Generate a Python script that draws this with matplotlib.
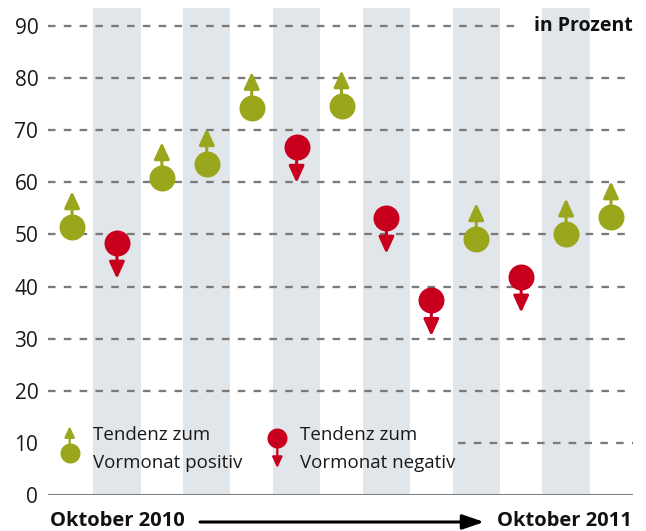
import matplotlib
matplotlib.use("Agg")
import matplotlib.pyplot as plt
import matplotlib.transforms as mtransforms

plt.rcParams['font.family'] = ['Open Sans', 'DejaVu Sans']

# Oktober 2010 .. Oktober 2011, Werte in Prozent
monate = ["Okt 10", "Nov 10", "Dez 10", "Jan 11", "Feb 11", "Mär 11", "Apr 11",
          "Mai 11", "Jun 11", "Jul 11", "Aug 11", "Sep 11", "Okt 11"]
werte = [51.4, 48.4, 60.8, 63.5, 74.3, 66.8, 74.6, 53.2, 37.4, 49.1, 41.9, 50.0, 53.3]
tendenz = [1, -1, 1, 1, 1, -1, 1, -1, -1, 1, -1, 1, 1]  # +1 positiv, -1 negativ
y_ticks = [0, 10, 20, 30, 40, 50, 60, 70, 80, 90]

gruen = "#9aa61c"
rot = "#c8001e"
band = "#e1e6ea"
grid_col = "#7a7a7a"

fig = plt.figure(figsize=(6.46, 5.31), dpi=100)
ax = fig.add_axes([48 / 646, 36 / 531, 585 / 646, 487 / 531])
ax.set_xlim(-0.535, 12.49)
ax.set_ylim(0, 93.45)

x = list(range(len(monate)))

# graue Streifen für jeden zweiten Monat
for i in x:
    if i % 2 == 1:
        ax.axvspan(i - 0.525, i + 0.525, color=band, lw=0, zorder=0)

# gestrichelte Hilfslinien
for t in y_ticks[1:]:
    x0, x1 = -0.535, 12.49
    if t == 10:
        x0 = 8.6
    if t == 90:
        x1 = 9.95
    ax.plot([x0, x1], [t, t], color=grid_col, lw=1.65,
            linestyle=(0, (3.3, 3.6)), zorder=1, solid_capstyle='butt')
ax.plot([-0.535, 12.49], [0, 0], color="#808080", lw=2.2, zorder=1)

# Pfeile + Punkte
pfeil_len = 6.9
for xi, v, t in zip(x, werte, tendenz):
    c = gruen if t > 0 else rot
    ax.annotate("", xy=(xi, v + t * pfeil_len), xytext=(xi, v),
                arrowprops=dict(arrowstyle="-|>,head_length=1.0,head_width=0.46",
                                mutation_scale=10, lw=2.2, color=c,
                                shrinkA=0, shrinkB=0), zorder=2)
    ax.scatter([xi], [v], s=350, color=c, lw=0, zorder=3)

# Achsen
for s in ax.spines.values():
    s.set_visible(False)
ax.set_xticks([])
ax.set_yticks(y_ticks)
ax.tick_params(axis='y', length=0, pad=7, labelsize=15, labelcolor="#1a1a1a")

ax.text(1.0, 90, "in Prozent", transform=mtransforms.blended_transform_factory(ax.transAxes, ax.transData),
        ha='right', va='center', fontsize=14, fontweight='bold', color="#111111")

# Legende
leg_fs = 13.5
ax.scatter([0.037], [0.086], s=207, color=gruen, lw=0, transform=ax.transAxes, zorder=3, clip_on=False)
ax.annotate("", xy=(0.037, 0.086 + 27 / 487), xytext=(0.037, 0.086),
            xycoords='axes fraction',
            arrowprops=dict(arrowstyle="-|>,head_length=0.65,head_width=0.3",
                            mutation_scale=10, lw=1.6, color=gruen, shrinkA=0, shrinkB=0), zorder=2)
ax.text(0.0765, 0.123, "Tendenz zum", transform=ax.transAxes, ha='left', va='center', fontsize=leg_fs, color="#1a1a1a")
ax.text(0.0765, 0.066, "Vormonat positiv", transform=ax.transAxes, ha='left', va='center', fontsize=leg_fs, color="#1a1a1a")

ax.scatter([0.392], [0.117], s=207, color=rot, lw=0, transform=ax.transAxes, zorder=3, clip_on=False)
ax.annotate("", xy=(0.392, 0.117 - 30 / 487), xytext=(0.392, 0.117),
            xycoords='axes fraction',
            arrowprops=dict(arrowstyle="-|>,head_length=0.65,head_width=0.3",
                            mutation_scale=10, lw=1.6, color=rot, shrinkA=0, shrinkB=0), zorder=2)
ax.text(0.431, 0.123, "Tendenz zum", transform=ax.transAxes, ha='left', va='center', fontsize=leg_fs, color="#1a1a1a")
ax.text(0.431, 0.066, "Vormonat negativ", transform=ax.transAxes, ha='left', va='center', fontsize=leg_fs, color="#1a1a1a")

# Zeitachse unten
fig.text(50 / 646, 1 - 521 / 531, "Oktober 2010", ha='left', va='center', fontsize=14.5, fontweight='bold', color="#111111")
fig.text(632 / 646, 1 - 521 / 531, "Oktober 2011", ha='right', va='center', fontsize=14.5, fontweight='bold', color="#111111")
fig.add_artist(matplotlib.patches.FancyArrowPatch(
    (200 / 646, 1 - 522 / 531), (484 / 646, 1 - 522 / 531), transform=fig.transFigure,
    arrowstyle="-|>,head_length=1.3,head_width=0.45", mutation_scale=10, lw=2.2, color="black",
    shrinkA=0, shrinkB=0))

fig.savefig("out.png", dpi=100)
